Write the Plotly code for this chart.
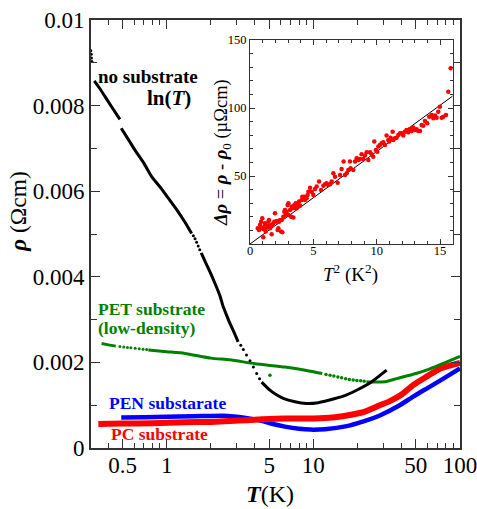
import plotly.graph_objects as go

W, H = 477, 509
ML, MR, MT, MB = 91, 17, 20, 61
FONT = "Times New Roman, Liberation Serif, Times, serif"

# ---- main panel: resistivity vs temperature ----
# no substrate (black)
ns_start_T = [0.304, 0.306, 0.307, 0.309]
ns_start_rho = [0.00928, 0.00920, 0.00911, 0.00903]
ns_a_T = [0.321, 0.35, 0.38, 0.42, 0.48]
ns_a_rho = [0.00858, 0.00840, 0.00821, 0.00798, 0.00768]
ns_b_T = [0.49, 0.55, 0.608, 0.70, 0.79, 0.90, 1.03, 1.17, 1.33, 1.48]
ns_b_rho = [0.00747, 0.00720, 0.00696, 0.00665, 0.00634, 0.00610, 0.00583, 0.00557, 0.00528, 0.00501]
ns_c_T = [1.52, 1.56, 1.60, 1.64, 1.68]
ns_c_rho = [0.00496, 0.00489, 0.00481, 0.00472, 0.00463]
ns_d_T = [1.72, 1.85, 1.97, 2.15, 2.31, 2.43, 2.55, 2.70, 2.88, 3.07]
ns_d_rho = [0.00456, 0.00432, 0.00412, 0.00382, 0.00355, 0.00330, 0.00312, 0.00291, 0.00270, 0.00248]
ns_e_T = [3.20, 3.33, 3.50, 3.70, 3.90, 4.11, 4.30]
ns_e_rho = [0.00240, 0.00230, 0.00217, 0.00204, 0.00189, 0.00174, 0.00162]
ns_f_T = [4.44, 5.06, 5.5, 6.23, 7.5, 8.98, 10.5, 12.9, 16.0, 19.7, 25.0, 31.6]
ns_f_rho = [0.00154, 0.00135, 0.00126, 0.00116, 0.00108, 0.00104, 0.00105, 0.00112, 0.00121, 0.00135, 0.00155, 0.00182]

# PET substrate, low density (green)
pet_a_T = [0.36, 0.40, 0.45]
pet_a_rho = [0.00244, 0.00241, 0.00238]
pet_b_T = [0.48, 0.51, 0.54, 0.57, 0.61, 0.65, 0.69, 0.73]
pet_b_rho = [0.00237, 0.00236, 0.00235, 0.00234, 0.00233, 0.00232, 0.00231, 0.00230]
pet_c_T = [0.75, 1.0, 1.33, 2.0, 2.7, 4.0, 6.4, 9.0, 11.5]
pet_c_rho = [0.00229, 0.00225, 0.00221, 0.00210, 0.00206, 0.00197, 0.00189, 0.00181, 0.00174]
pet_d_T = [12.2, 13.0, 13.8, 14.7, 15.6, 16.6, 17.6, 18.7, 19.8, 21.0, 22.2]
pet_d_rho = [0.00172, 0.00170, 0.00168, 0.00166, 0.00164, 0.00162, 0.00160, 0.00159, 0.00158, 0.00157, 0.00156]
pet_e_T = [23.0, 25.6, 31.0, 37.0, 50.0, 62.4, 80.0, 100.0]
pet_e_rho = [0.00155, 0.00154, 0.00155, 0.00162, 0.00174, 0.00185, 0.00200, 0.00214]
pet_stray_T = [5.06]
pet_stray_rho = [0.00170]

# PEN substrate (blue)
pen_T = [0.49, 0.7, 1.0, 1.5, 2.0, 2.62, 3.2, 3.8, 4.5, 5.3, 6.4, 8.0, 9.5, 12.0, 16.9, 22.0, 28.4, 38.0, 47.9, 60.0, 77.0, 100.0]
pen_rho = [0.00071, 0.00072, 0.00073, 0.00074, 0.00075, 0.00075, 0.00072, 0.00068, 0.00063, 0.00056, 0.00050, 0.00045, 0.00043, 0.00044, 0.00051, 0.00062, 0.00076, 0.00098, 0.00120, 0.00140, 0.00162, 0.00186]

# PC substrate (red)
pc_T = [0.342, 0.5, 0.8, 1.33, 2.0, 2.7, 3.5, 4.5, 6.4, 10.0, 13.5, 16.9, 21.9, 28.4, 33.0, 40.0, 47.9, 60.0, 73.5, 100.0]
pc_rho = [0.00056, 0.00057, 0.00058, 0.00060, 0.00061, 0.00063, 0.00065, 0.00067, 0.00069, 0.00069, 0.00071, 0.00076, 0.00084, 0.00100, 0.00109, 0.00125, 0.00147, 0.00168, 0.00186, 0.00199]

# ---- inset: excess resistivity vs T^2 ----
inset_T2 = [0.61, 0.71, 0.79, 0.87, 0.92, 0.97, 1.05, 1.05, 1.13, 1.18, 1.24, 1.32, 1.39, 1.45, 1.50,
            1.58, 1.66, 1.71, 1.76, 1.84, 1.92, 1.97, 2.03, 2.11, 2.18, 2.24, 2.29, 2.37, 2.45, 2.55,
            2.50, 2.63, 2.71, 2.76, 2.81, 2.89, 2.97, 3.03, 3.03, 3.16, 3.24, 3.29, 3.34, 3.42, 3.50,
            3.55, 3.61, 3.68, 3.76, 3.82, 3.87, 3.95, 4.08, 4.13, 4.21, 4.29, 4.34, 4.47, 4.55, 4.61,
            4.74, 4.87, 5.00, 5.13, 5.26, 5.45, 5.61, 5.79, 5.92, 6.05, 6.18, 6.32, 6.45, 6.58, 6.71,
            6.92, 7.11, 7.23, 7.39, 7.50, 7.63, 7.76, 7.89, 7.94, 8.15, 8.29, 8.42, 8.55, 8.68, 8.81,
            8.94, 9.07, 9.21, 9.34, 9.47, 9.60, 9.73, 9.81, 9.94, 10.05, 10.13, 10.26, 10.39, 10.52,
            10.65, 10.78, 10.92, 10.99, 11.10, 11.26, 11.31, 11.44, 11.57, 11.71, 11.84, 11.97, 12.10,
            12.23, 12.36, 12.49, 12.63, 12.76, 12.89, 13.02, 13.15, 13.28, 13.42, 13.55, 13.68, 13.81,
            13.99, 14.15, 14.34, 14.47, 14.60, 14.73, 14.86, 14.99, 15.13, 15.26, 15.47, 15.65, 15.84]
inset_drho = [11.5, 10.3, 14.0, 16.4, 12.0, 18.9, 4.9, 11.0, 12.8, 15.2, 9.1, 12.0, 13.5, 16.4, 17.7,
              11.5, 14.0, 7.1, 14.0, 15.2, 16.4, 22.6, 16.4, 16.9, 10.3, 11.5, 16.4, 17.7, 9.1, 8.6,
              17.7, 20.1, 23.8, 25.0, 21.3, 23.8, 28.7, 29.9, 21.3, 25.0, 20.1, 27.5, 26.2, 19.4, 28.7,
              26.2, 29.9, 26.2, 27.5, 29.2, 31.2, 28.2, 32.4, 34.8, 33.6, 34.8, 32.4, 33.6, 36.1, 38.5,
              41.4, 38.5, 36.1, 40.5, 42.2, 45.9, 39.7, 42.9, 43.9, 44.6, 43.4, 43.9, 45.9, 52.0, 49.5,
              45.1, 50.8, 55.2, 60.6, 50.8, 52.0, 54.4, 60.6, 55.7, 54.4, 60.6, 63.0, 61.8, 62.5, 66.0,
              62.5, 65.0, 67.4, 61.8, 67.4, 66.0, 64.2, 75.3, 69.1, 67.9, 71.6, 72.8, 74.0, 74.8,
              72.8, 79.7, 76.5, 75.3, 78.2, 82.6, 76.5, 77.7, 78.2, 80.2, 81.4, 81.4, 79.7,
              82.6, 83.8, 82.1, 84.6, 83.1, 85.6, 83.8, 84.3, 83.1, 83.1, 87.5, 87.0, 90.5,
              88.7, 93.6, 94.9, 92.4, 94.4, 92.9, 97.3, 101.0, 92.9, 93.6, 94.9, 112.0, 129.2]
fit_T2 = [0.0, 16.0]
fit_drho = [0.0, 108.8]

# tick definitions
x_major = [0.5, 1, 5, 10, 50, 100]
x_major_text = ["0.5", "1", "5", "10", "50", "100"]
x_minor = [0.4, 0.6, 0.7, 0.8, 0.9, 2, 3, 4, 6, 7, 8, 9, 20, 30, 40, 60, 70, 80, 90]
y_major = [0, 0.002, 0.004, 0.006, 0.008, 0.01]
y_major_text = ["0", "0.002", "0.004", "0.006", "0.008", "0.01"]

GREEN = "#008000"
BLUE = "#0000ff"
RED = "#ff0000"
AX = "#333333"

fig = go.Figure()


def line(T, rho, color, width, xa="x", ya="y"):
    fig.add_trace(go.Scatter(x=T, y=rho, mode="lines", line=dict(color=color, width=width, shape="spline", smoothing=0.6),
                             xaxis=xa, yaxis=ya, hoverinfo="skip"))


def dots(T, rho, color, size, xa="x", ya="y"):
    fig.add_trace(go.Scatter(x=T, y=rho, mode="markers", marker=dict(color=color, size=size),
                             xaxis=xa, yaxis=ya, hoverinfo="skip"))


line(pen_T, pen_rho, BLUE, 4.5)
line(pc_T, pc_rho, RED, 6)
line(pet_a_T, pet_a_rho, GREEN, 3)
dots(pet_b_T, pet_b_rho, GREEN, 3)
line(pet_c_T, pet_c_rho, GREEN, 3)
dots(pet_d_T, pet_d_rho, GREEN, 3.5)
line(pet_e_T, pet_e_rho, GREEN, 3)
dots(pet_stray_T, pet_stray_rho, GREEN, 3.5)
dots(ns_start_T, ns_start_rho, "black", 3)
line(ns_a_T, ns_a_rho, "black", 3)
line(ns_b_T, ns_b_rho, "black", 3)
dots(ns_c_T, ns_c_rho, "black", 3)
line(ns_d_T, ns_d_rho, "black", 3)
dots(ns_e_T, ns_e_rho, "black", 3)
line(ns_f_T, ns_f_rho, "black", 3)

# inset
fig.add_trace(go.Scatter(x=fit_T2, y=fit_drho, mode="lines", line=dict(color="black", width=1),
                         xaxis="x2", yaxis="y2", hoverinfo="skip"))
fig.add_trace(go.Scatter(x=inset_T2, y=inset_drho, mode="markers", marker=dict(color=RED, size=4.5),
                         xaxis="x2", yaxis="y2", hoverinfo="skip"))

PW = W - ML - MR
PH = H - MT - MB


def px(x):
    return (x - ML) / PW


def py(y):
    return (H - MB - y) / PH


main_axis = dict(showline=True, linecolor=AX, linewidth=1.6, mirror="allticks", ticks="inside",
                 tickcolor=AX, tickwidth=1.4, showgrid=False, zeroline=False, automargin=False,
                 ticklabeloverflow="allow", tickfont=dict(family=FONT, size=23, color="black"))

inset_axis = dict(ticks="inside", ticklen=5, tickwidth=1, tickcolor=AX, showline=True, linecolor=AX,
                  linewidth=1, mirror="allticks", showgrid=False, zeroline=False, automargin=False,
                  tickfont=dict(family=FONT, size=12.5, color="black"))

fig.update_layout(
    width=W, height=H, margin=dict(l=ML, r=MR, t=MT, b=MB, autoexpand=False),
    paper_bgcolor="white", plot_bgcolor="white", showlegend=False,
    font=dict(family=FONT, color="black"),
    xaxis=dict(type="log", range=[-0.516, 2.0], tickvals=x_major, ticktext=x_major_text, ticklen=9,
               ticklabelstandoff=-4,
               minor=dict(tickvals=x_minor, ticks="inside", ticklen=5, tickcolor=AX, tickwidth=1.2),
               **main_axis),
    yaxis=dict(range=[0, 0.01], tickvals=y_major, ticktext=y_major_text, ticklen=9,
               minor=dict(dtick=0.001, ticks="inside", ticklen=6, tickcolor=AX, tickwidth=1.2),
               **main_axis),
    xaxis2=dict(domain=[px(250), px(452.7)], anchor="y2", range=[0, 16], tickvals=[0, 5, 10, 15],
                ticklabelstandoff=-5,
                minor=dict(dtick=1, ticks="inside", ticklen=3, tickcolor=AX, tickwidth=0.8),
                **inset_axis),
    yaxis2=dict(domain=[py(244), py(40)], anchor="x2", range=[0, 150], tickvals=[50, 100, 150],
                minor=dict(dtick=10, ticks="inside", ticklen=3, tickcolor=AX, tickwidth=0.8),
                **inset_axis),
)


def note(text, x, y, size, color="black", xanchor="left", angle=0):
    fig.add_annotation(text=text, x=px(x), y=py(y), xref="paper", yref="paper", showarrow=False,
                       xanchor=xanchor, yanchor="middle", textangle=angle,
                       font=dict(family=FONT, size=size, color=color))


note("<b>no substrate</b>", 96, 76, 19)
note("<b>ln(<i>T</i>)</b>", 193, 98, 21, xanchor="right")
note("<b>PET substrate</b>", 96, 309, 17.5, GREEN)
note("<b>(low-density)</b>", 96, 328, 17.5, GREEN)
note("<b>PEN substarate</b>", 107, 403, 17.5, BLUE)
note("<b>PC substrate</b>", 109, 434, 17.5, RED)
note("<b><i>T</i></b>(K)", 270, 494, 24, xanchor="center")
note("<b><i>ρ</i></b> (Ωcm)", 18, 212, 23.5, xanchor="center", angle=-90)
note("<i>T</i><sup>2</sup> (K<sup>2</sup>)", 350, 273, 19, xanchor="center")
note("<b><i>Δρ</i></b> = <b><i>ρ</i></b> - <b><i>ρ</i></b><sub>0</sub> (µΩcm)", 223, 153, 18.5, xanchor="center", angle=-90)

fig.write_html("out.html")
